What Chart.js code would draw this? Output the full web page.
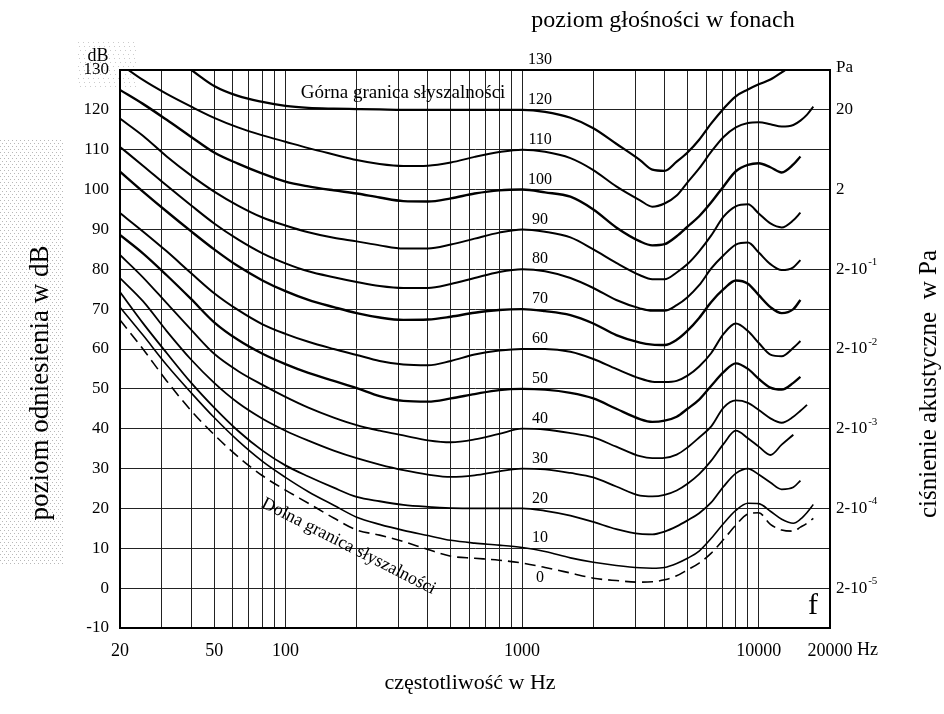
<!DOCTYPE html>
<html>
<head>
<meta charset="utf-8">
<script src="https://cdn.jsdelivr.net/npm/chart.js@4/dist/chart.umd.min.js"></script>
<style>
  html, body { margin: 0; padding: 0; background: #fff; }
</style>
</head>
<body>
<canvas id="myChart" width="944" height="714"></canvas>
<script>
// częstotliwości (Hz) wspólne dla wszystkich krzywych
const freqs = [20, 25, 31.5, 40, 50, 63, 80, 100, 125, 160, 200, 250, 315, 400, 500, 630, 800, 1000,
  1250, 1600, 2000, 2500, 3150, 3550, 4000, 4500, 5000, 5600, 6300, 7100, 8000, 9000, 10000,
  11200, 12500, 14000, 15000, 16000, 17000];

// krzywe jednakowej głośności (dB), null = brak krzywej
const phon120 = [null, null, 134, 130, 126, 123.5, 122, 121, 120.5, 120.3, 120.2, 120.1, 120, 120, 120, 120, 120, 120,
  119.5, 118, 115.4, 111.5, 107.4, 105, 104.7, 107, 109.3, 112.5, 116.6, 120.3, 123.4, 125.1, 126.4,
  127.6, 129.4, 131.5, null, null, null];
const phon110 = [131.5, 127.5, 124, 120.8, 118, 115.6, 113.6, 112, 110.4, 108.8, 107.4, 106.4, 105.9, 106, 106.8, 108.2, 109.4, 110,
  109.5, 107.9, 104.9, 100.8, 97.3, 95.7, 96.5, 98.5, 101.8, 105.3, 109.5, 113.2, 115.6, 116.7, 116.9,
  116.4, 115.8, 116.2, 117.3, 118.8, 120.8];
const phon100 = [125, 121.5, 117.5, 113.2, 109.3, 106.5, 104, 102, 100.8, 99.8, 99, 98, 97.1, 97, 97.8, 99, 99.8, 100,
  99.3, 98.2, 95, 90.5, 87, 86, 86.3, 88.3, 90.7, 93.3, 96.8, 100.8, 104.6, 106.2, 106.6,
  105.6, 104.3, 106.3, 108.3, null, null];
const phon90 = [117.8, 113.5, 108.3, 103.5, 99.5, 96, 93, 91, 89.3, 87.9, 87, 86, 85.2, 85.2, 86.2, 87.7, 89.2, 90,
  89.4, 88, 85, 81.6, 78.5, 77.5, 77.5, 79.2, 81.3, 84.5, 88.5, 93.2, 95.8, 96.3, 94,
  91.5, 90.5, 92.3, 94.2, null, null];
const phon80 = [110.7, 106, 101, 96, 91.5, 87.5, 84, 81.5, 79.5, 78, 76.8, 75.8, 75.3, 75.3, 76.3, 77.8, 79.3, 80,
  79.5, 77.8, 75.3, 72.3, 70.2, 69.6, 69.6, 71, 73, 76, 80.2, 83.5, 86.2, 86.7, 84.2,
  81.3, 79.8, 80.5, 82.3, null, null];
const phon70 = [104.5, 99.5, 94.5, 89.5, 85, 80.8, 77.2, 74.5, 72.3, 70.5, 69, 67.9, 67.3, 67.4, 68.1, 69.1, 69.8, 70,
  69.5, 68.5, 66.4, 63.5, 61.6, 61.1, 61, 62.3, 64.6, 67.8, 71.8, 75, 77.2, 76.4, 73.5,
  70.5, 69, 70, 72.3, null, null];
const phon60 = [94.1, 89.5, 84.5, 79, 74, 69.8, 66.2, 63.8, 61.8, 60, 58.5, 57, 56.1, 55.9, 57, 58.6, 59.6, 60,
  60, 59.3, 57.5, 55, 52.6, 51.8, 51.7, 52, 53.3, 55.6, 59, 63.8, 66.4, 64.5, 61.5,
  58.6, 58.2, 60.3, 62, null, null];
const phon50 = [88.6, 84, 78.5, 72.5, 66.7, 62.3, 58.8, 56.2, 54, 52, 50.2, 48.2, 47, 46.8, 47.6, 48.7, 49.7, 50,
  49.8, 49, 47.6, 45, 42.4, 41.7, 42, 43, 45, 47.3, 50.8, 54.2, 56.4, 55, 52.5,
  50.3, 49.8, 51.5, 53, null, null];
const phon40 = [83.6, 78, 71.5, 64.8, 58.8, 54.5, 51, 48, 45.3, 42.8, 40.9, 39.5, 38.3, 37.1, 36.6, 37.3, 38.7, 40,
  39.8, 38.9, 37.8, 35.5, 33.1, 32.6, 32.7, 33.5, 35.3, 37.8, 40.6, 45.3, 47.1, 46.5, 44.7,
  42.6, 41.5, 43, 44.5, 46, null];
const phon30 = [77.8, 72, 64.5, 57.3, 51.5, 46.5, 42.5, 39.5, 37, 34.5, 32.6, 31, 29.6, 28.5, 27.9, 28.3, 29.3, 30,
  29.8, 28.9, 27.8, 25.5, 23.2, 23, 23.4, 24.5, 26.2, 28.6, 32, 36.2, 39.5, 37.6, 35.5,
  33.4, 36, 38.5, null, null, null];
const phon20 = [74.3, 66.5, 59, 51.5, 45.3, 39.5, 34.5, 30.8, 28, 25.2, 22.9, 21.8, 20.9, 20.4, 20.1, 20, 20, 20,
  19.4, 18.2, 16.6, 14.8, 13.6, 13.5, 14.2, 15.5, 17, 18.8, 21.5, 25.5, 28.8, 30, 28.5,
  26.5, 24.8, 25.3, 27, null, null];
const phon10 = [70.5, 63.5, 56, 49, 42.8, 37, 31.8, 27.8, 24.2, 20.8, 17.8, 16, 14.5, 13.2, 12, 11.3, 10.8, 10.2,
  9.2, 7.6, 6.5, 5.7, 5.1, 5.0, 5.2, 6.2, 7.5, 9.3, 12.5, 16.2, 19.5, 21.3, 21.2,
  19.3, 17.3, 16.3, 17.3, 19, 21];
// dolna granica słyszalności (linia przerywana)
const prog = [67.3, 60, 52, 44.5, 38.5, 33, 28.2, 24.6, 21.3, 17.6, 14.6, 13.3, 11.7, 9.7, 8, 7.5, 7, 6.3,
  5.2, 3.8, 2.5, 1.9, 1.5, 1.6, 2.1, 3.1, 4.6, 6.3, 8.8, 12.2, 15.8, 18.6, 18.9,
  16, 14.6, 14.3, 15.3, 16.3, 17.5];

// siatka i opisy osi
const gridFreqs = [20, 30, 40, 50, 60, 70, 80, 90, 100, 200, 300, 400, 500, 600, 700, 800, 900,
  1000, 2000, 3000, 4000, 5000, 6000, 7000, 8000, 9000, 10000, 20000];
const xLabels = [20, 50, 100, 1000, 10000, 20000];
const phonLabels = [130, 120, 110, 100, 90, 80, 70, 60, 50, 40, 30, 20, 10, 0];
const paValues = [130, 120, 100, 80, 60, 40, 20, 0];
const paLabels = ['Pa', '20', '2', '2-10', '2-10', '2-10', '2-10', '2-10'];
const paExp = ['', '', '', '-1', '-2', '-3', '-4', '-5'];

const serif = '"Liberation Serif", "DejaVu Serif", serif';

const curves = [
  { data: phon120, w: 2.2 }, { data: phon110, w: 2 }, { data: phon100, w: 2.4 },
  { data: phon90, w: 2 }, { data: phon80, w: 2 }, { data: phon70, w: 2.4 },
  { data: phon60, w: 2 }, { data: phon50, w: 2.3 }, { data: phon40, w: 1.8 },
  { data: phon30, w: 1.8 }, { data: phon20, w: 1.8 }, { data: phon10, w: 1.6 },
  { data: prog, w: 1.6, dash: [11, 6] }
];

const datasets = curves.map(c => ({
  data: freqs.map((f, i) => ({ x: f, y: c.data[i] })),
  borderColor: '#000',
  borderWidth: c.w,
  borderDash: c.dash || [],
  pointRadius: 0,
  fill: false,
  cubicInterpolationMode: 'monotone'
}));

// szare kropkowane tło (ze skanu) pod lewym opisem
const tlo = {
  id: 'tlo',
  beforeDraw(chart) {
    const c = chart.ctx;
    c.save();
    c.fillStyle = '#b8b8b8';
    for (let yy = 140; yy < 565; yy += 3) {
      for (let xx = (yy % 2) * 2; xx < 64; xx += 4) c.fillRect(xx, yy, 1, 1);
    }
    c.fillStyle = '#cccccc';
    for (let yy = 42; yy < 90; yy += 4) {
      for (let xx = 78 + (yy % 3); xx < 138; xx += 5) c.fillRect(xx, yy, 1, 1);
    }
    c.restore();
  }
};

// napisy, ramka i opisy prawej osi
const napisy = {
  id: 'napisy',
  afterDraw(chart) {
    const { ctx, chartArea: a, scales: { x, y } } = chart;
    ctx.save();
    ctx.strokeStyle = '#000';
    ctx.lineWidth = 2;
    ctx.beginPath();
    ctx.moveTo(a.left, a.top); ctx.lineTo(a.right, a.top); ctx.lineTo(a.right, a.bottom);
    ctx.stroke();

    ctx.fillStyle = '#000';
    ctx.textBaseline = 'middle';
    ctx.textAlign = 'center';
    ctx.font = '24px ' + serif;
    ctx.fillText('poziom głośności w fonach', 663, 21);
    ctx.font = '22px ' + serif;
    ctx.fillText('częstotliwość w Hz', 470, 683);

    ctx.save();
    ctx.translate(41, 383); ctx.rotate(-Math.PI / 2);
    ctx.font = '27px ' + serif;
    ctx.fillText('poziom odniesienia w dB', 0, 0);
    ctx.restore();
    ctx.save();
    ctx.translate(929, 384); ctx.rotate(-Math.PI / 2);
    ctx.font = '25px ' + serif;
    ctx.fillText('ciśnienie akustyczne  w Pa', 0, 0);
    ctx.restore();

    ctx.font = '18px ' + serif;
    ctx.fillText('dB', 98, 56);
    ctx.textAlign = 'left';
    ctx.fillText('Hz', x.getPixelForValue(20000) + 27, a.bottom + 22);

    // fony przy 1000 Hz
    ctx.textAlign = 'center';
    ctx.font = '16px ' + serif;
    const xf = x.getPixelForValue(1000) + 18;
    phonLabels.forEach(v => ctx.fillText(String(v), xf, y.getPixelForValue(v) - 10));

    // prawa oś: ciśnienie w Pa
    ctx.textAlign = 'left';
    paValues.forEach((v, i) => {
      const py = y.getPixelForValue(v) + (v === 130 ? -2 : 0);
      ctx.font = '17px ' + serif;
      ctx.fillText(paLabels[i], a.right + 6, py);
      if (paExp[i]) {
        const w = ctx.measureText(paLabels[i]).width;
        ctx.font = '11px ' + serif;
        ctx.fillText(paExp[i], a.right + 7 + w, py - 7);
      }
    });

    ctx.font = '19px ' + serif;
    ctx.fillText('Górna granica słyszalności', x.getPixelForValue(116), y.getPixelForValue(124.3));

    ctx.save();
    ctx.font = '18px ' + serif;
    ctx.translate(x.getPixelForValue(185), y.getPixelForValue(10.5));
    ctx.rotate(27 * Math.PI / 180);
    ctx.textAlign = 'center';
    ctx.fillText('Dolna granica słyszalności', 0, 0);
    ctx.restore();

    ctx.font = '30px ' + serif;
    ctx.textAlign = 'right';
    ctx.fillText('f', a.right - 12, y.getPixelForValue(-4.5));
    ctx.restore();
  }
};

const ctx = document.getElementById('myChart').getContext('2d');
new Chart(ctx, {
  type: 'line',
  data: { datasets: datasets },
  options: {
    responsive: false,
    animation: false,
    devicePixelRatio: 1,
    layout: { padding: { top: 70, right: 114, left: 0, bottom: 0 } },
    plugins: { legend: { display: false }, tooltip: { enabled: false } },
    scales: {
      x: {
        type: 'logarithmic',
        min: 20,
        max: 20000,
        afterBuildTicks: s => { s.ticks = gridFreqs.map(v => ({ value: v })); },
        afterFit: s => { s.height = 86; },
        grid: { color: '#222', lineWidth: 1, drawTicks: false },
        border: { color: '#000', width: 2 },
        ticks: {
          autoSkip: false,
          maxRotation: 0,
          padding: 12,
          color: '#000',
          font: { family: serif, size: 18 },
          callback: v => xLabels.includes(Math.round(v)) ? String(Math.round(v)) : ''
        }
      },
      y: {
        min: -10,
        max: 130,
        afterFit: s => { s.width = 120; },
        grid: { color: '#222', lineWidth: 1, drawTicks: false },
        border: { color: '#000', width: 2 },
        ticks: { stepSize: 10, padding: 11, color: '#000', font: { family: serif, size: 17 } }
      }
    }
  },
  plugins: [tlo, napisy]
});
</script>
</body>
</html>
